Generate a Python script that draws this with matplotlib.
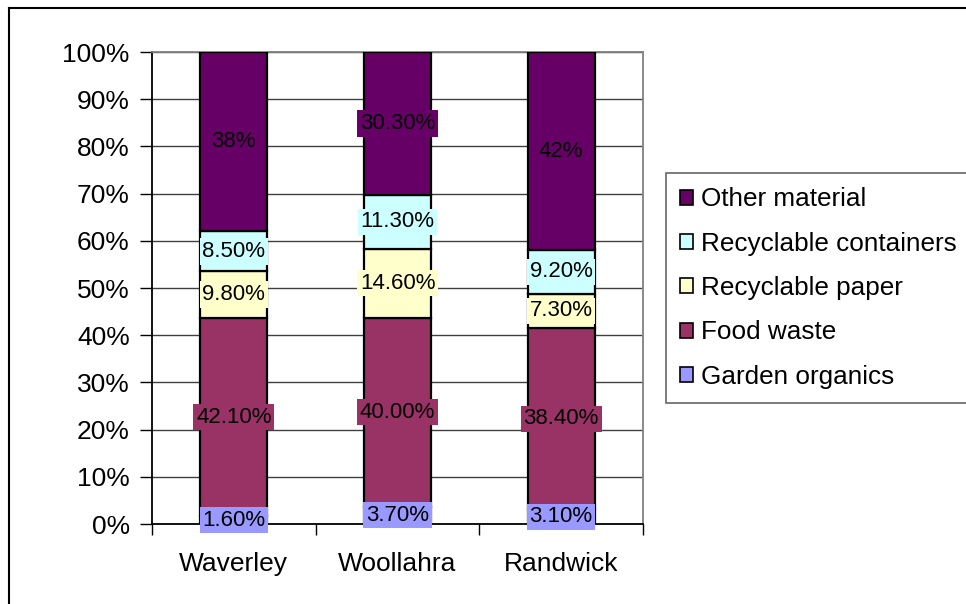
import matplotlib
matplotlib.use("Agg")
import matplotlib.pyplot as plt
import numpy as np
from matplotlib.patches import Patch
from matplotlib.lines import Line2D

plt.rcParams['font.family'] = ['Liberation Sans', 'DejaVu Sans']

councils = ['Waverley', 'Woollahra', 'Randwick']
series = ['Garden organics', 'Food waste', 'Recyclable paper',
          'Recyclable containers', 'Other material']
garden = [1.6, 3.7, 3.1]
food = [42.1, 40.0, 38.4]
paper = [9.8, 14.6, 7.3]
containers = [8.5, 11.3, 9.2]
other = [38.0, 30.3, 42.0]
# label text as shown in the source chart
garden_lbl = ['1.60%', '3.70%', '3.10%']
food_lbl = ['42.10%', '40.00%', '38.40%']
paper_lbl = ['9.80%', '14.60%', '7.30%']
containers_lbl = ['8.50%', '11.30%', '9.20%']
other_lbl = ['38%', '30.30%', '42%']
colors = ['#9999FF', '#993366', '#FFFFCC', '#CCFFFF', '#660066']

W, H = 966, 604
fig = plt.figure(figsize=(W / 100, H / 100), dpi=100)
ax = fig.add_axes([152 / W, (H - 524) / H, (643 - 152) / W, (524 - 52) / H])

vals = np.array([garden, food, paper, containers, other])
labels = [garden_lbl, food_lbl, paper_lbl, containers_lbl, other_lbl]
pct = vals / vals.sum(axis=0) * 100
x = np.arange(len(councils))
bottom = np.zeros(len(councils))
for i, name in enumerate(series):
    ax.bar(x, pct[i], 0.41, bottom=bottom, color=colors[i],
           edgecolor='black', linewidth=1.6, label=name, zorder=3)
    for j in range(len(councils)):
        ax.text(x[j], bottom[j] + pct[i][j] / 2, labels[i][j],
                ha='center', va='center', fontsize=16, color='black',
                zorder=5,
                bbox=dict(boxstyle='square,pad=0.12', fc=colors[i], ec='none'))
    bottom += pct[i]

ax.set_xlim(-0.5, 2.5)
ax.set_ylim(0, 100)
ax.set_yticks(np.arange(0, 101, 10))
ax.set_yticklabels([f'{v}%' for v in range(0, 101, 10)], fontsize=19)
ax.yaxis.grid(True, color='#404040', lw=1, zorder=0)
ax.tick_params(axis='y', direction='out', length=9, width=1, pad=7)

ax.set_xticks(x)
ax.set_xticklabels(councils, fontsize=19)
ax.tick_params(axis='x', length=0, pad=20)
ax.set_xticks([-0.5, 0.5, 1.5, 2.5], minor=True)
ax.tick_params(axis='x', which='minor', direction='out', length=8, width=1)

for s in ['left', 'bottom']:
    ax.spines[s].set_color('black')
    ax.spines[s].set_linewidth(1.3)
for s in ['top', 'right']:
    ax.spines[s].set_color('#808080')
    ax.spines[s].set_linewidth(1.3)
ax.set_axisbelow(True)

handles = [Patch(fc=colors[i], ec='black', lw=1.2) for i in range(4, -1, -1)]
leg = fig.legend(handles, series[::-1], loc='upper left',
                 bbox_to_anchor=(666 / W, 1 - 173 / H), fontsize=18.8,
                 frameon=True, fancybox=False, borderpad=0.55,
                 handlelength=0.5, handleheight=0.5, handletextpad=0.3,
                 labelspacing=0.78, borderaxespad=0)
leg.get_frame().set_edgecolor('#404040')
leg.get_frame().set_linewidth(1.2)

# outer chart border (left and top visible)
fig.add_artist(Line2D([9 / W, 9 / W], [0, 1 - 8 / H], transform=fig.transFigure,
                      color='black', lw=1.5))
fig.add_artist(Line2D([9 / W, 1], [1 - 8 / H, 1 - 8 / H], transform=fig.transFigure,
                      color='black', lw=1.5))

fig.savefig('out.png', dpi=100)
